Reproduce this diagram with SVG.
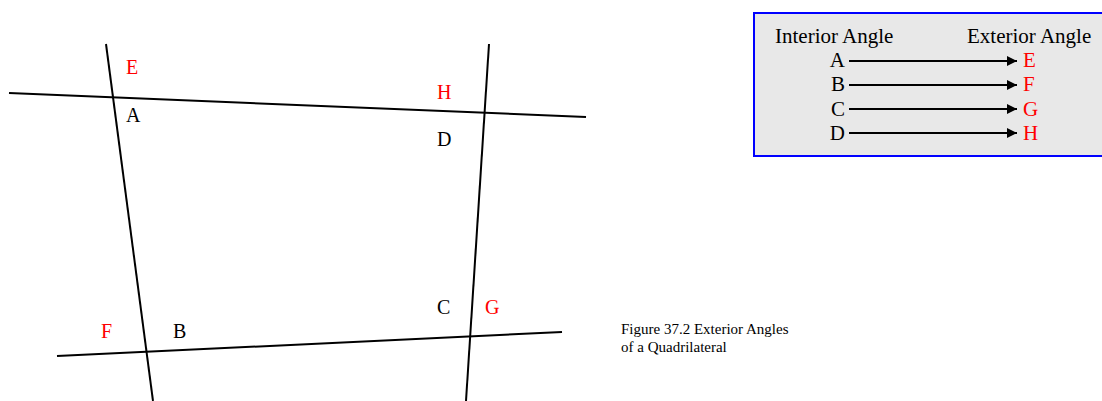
<svg xmlns="http://www.w3.org/2000/svg" width="1102" height="401" viewBox="0 0 1102 401">
  <style>
    .ln { stroke: #000; stroke-width: 2; fill: none; }
    .t { font-family: "Liberation Serif", "Times New Roman", serif; font-size: 20px; fill: #000; }
    .bt { font-family: "Liberation Serif", "Times New Roman", serif; font-size: 21px; fill: #000; }
    .cap { font-family: "Liberation Serif", "Times New Roman", serif; font-size: 15px; fill: #000; }
    .red { fill: #ff0000; }
    .arr { stroke: #000; stroke-width: 2; fill: none; marker-end: url(#ah); }
  </style>
  <defs>
    <marker id="ah" markerUnits="userSpaceOnUse" markerWidth="10" markerHeight="10" refX="10" refY="5" orient="auto">
      <path d="M0,0 L10,5 L0,10 z" fill="#000"/>
    </marker>
  </defs>
  <rect width="1102" height="401" fill="#fff"/>

  <g id="quadrilateral-lines">
    <line class="ln" x1="9" y1="93" x2="586" y2="117"/>
    <line class="ln" x1="57" y1="356" x2="562" y2="332"/>
    <line class="ln" x1="106" y1="44" x2="153" y2="401"/>
    <line class="ln" x1="489" y1="44" x2="466" y2="401"/>
  </g>

  <g id="vertex-A"><text class="t" x="126" y="122">A</text><text class="t red" x="126" y="74">E</text></g>
  <g id="vertex-D"><text class="t" x="437" y="146">D</text><text class="t red" x="437" y="99">H</text></g>
  <g id="vertex-B"><text class="t" x="173" y="338">B</text><text class="t red" x="101" y="338">F</text></g>
  <g id="vertex-C"><text class="t" x="437" y="314">C</text><text class="t red" x="485" y="314">G</text></g>

  <g id="legend">
    <rect x="754" y="13" width="360" height="143" fill="#e8e8e8" stroke="#0000ff" stroke-width="2"/>
    <text class="bt" x="775" y="43">Interior Angle</text>
    <text class="bt" x="967" y="43">Exterior Angle</text>
    <g id="row-A"><text class="bt" x="845" y="67" text-anchor="end">A</text><text class="bt red" x="1023" y="67">E</text></g>
    <g id="row-B"><text class="bt" x="845" y="91" text-anchor="end">B</text><text class="bt red" x="1023" y="91">F</text></g>
    <g id="row-C"><text class="bt" x="845" y="116" text-anchor="end">C</text><text class="bt red" x="1023" y="116">G</text></g>
    <g id="row-D"><text class="bt" x="845" y="140" text-anchor="end">D</text><text class="bt red" x="1023" y="140">H</text></g>
  </g>

  <g id="connectors">
    <line class="arr" x1="849" y1="61" x2="1017" y2="61"/>
    <line class="arr" x1="849" y1="85" x2="1017" y2="85"/>
    <line class="arr" x1="849" y1="109" x2="1017" y2="109"/>
    <line class="arr" x1="849" y1="133" x2="1017" y2="133"/>
  </g>

  <g id="caption">
    <text class="cap" x="621" y="334">Figure 37.2 Exterior Angles</text>
    <text class="cap" x="621" y="352">of a Quadrilateral</text>
  </g>
</svg>
